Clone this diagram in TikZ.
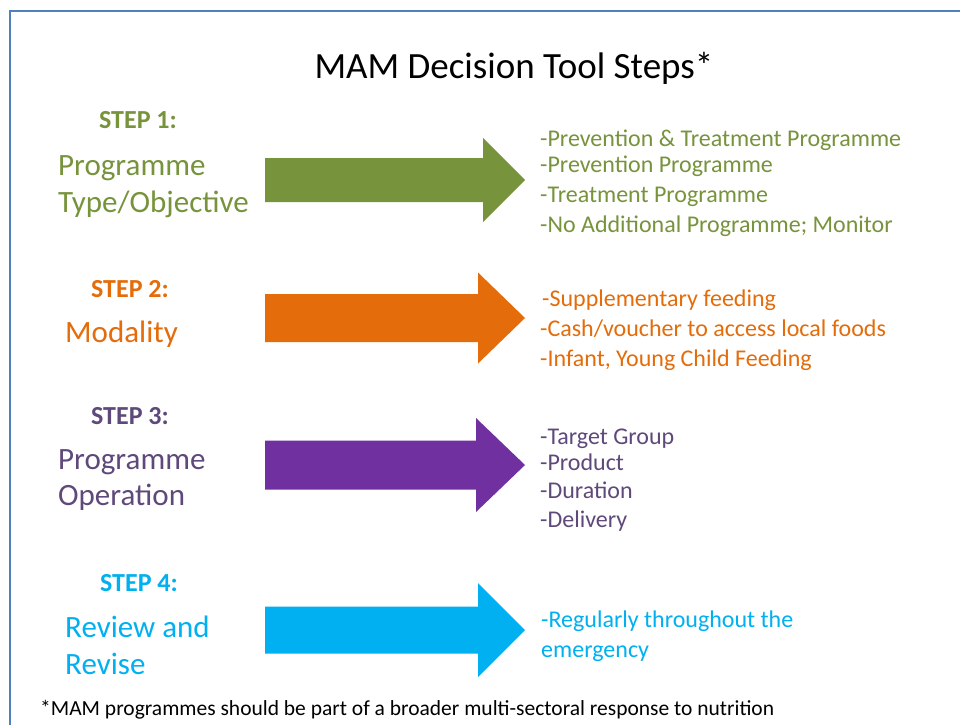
\documentclass[tikz,border=0pt]{standalone}
\usepackage{fontspec}
\setmainfont{Carlito}
\definecolor{framec}{HTML}{4F81BD}
\definecolor{gc}{HTML}{77933C}
\definecolor{oc}{HTML}{E46C0A}
\definecolor{pc}{HTML}{7030A0}
\definecolor{ptc}{HTML}{5F497A}
\definecolor{cc}{HTML}{00B0F0}
\newcommand\mamarrow[5]{%
  \fill[#1] (265,{#2-#3}) -- (#5,{#2-#3}) -- (#5,{#2-#4}) -- (525,#2)
    -- (#5,{#2+#4}) -- (#5,{#2+#3}) -- (265,{#2+#3}) -- cycle;}
\begin{document}
\begin{tikzpicture}[x=1pt,y=-1pt,
  txt/.style={inner sep=0pt, anchor=base west},
  steplbl/.style={inner sep=0pt, anchor=base, font=\fontsize{26}{26}\selectfont\bfseries},
  biglbl/.style={txt, font=\fontsize{31}{31}\selectfont},
  item/.style={txt, font=\fontsize{24}{24}\selectfont}]
\useasboundingbox (0,0) rectangle (960,724);
\fill[white] (0,0) rectangle (960,724);
\draw[framec, line width=2pt] (10,725) -- (10,11) -- (961,11);

\node[inner sep=0pt, anchor=base, font=\fontsize{37}{37}\selectfont] (title) at (514,78) {MAM Decision Tool Steps*};

% Step 1
\mamarrow{gc}{180}{22}{42}{483}
\node[steplbl, text=gc] (s1) at (138,128) {STEP 1:};
\node[biglbl, text=gc] (s1a) at (58,175) {Programme};
\node[biglbl, text=gc] (s1b) at (58,212) {Type/Objective};
\node[item, text=gc] (i11) at (540,146) {-Prevention \& Treatment Programme};
\node[item, text=gc] (i12) at (540,172) {-Prevention Programme};
\node[item, text=gc] (i13) at (540,202) {-Treatment Programme};
\node[item, text=gc] (i14) at (540,232) {-No Additional Programme; Monitor};

% Step 2
\mamarrow{oc}{318}{24}{45.5}{478}
\node[steplbl, text=oc] (s2) at (130,297) {STEP 2:};
\node[biglbl, text=oc] (s2a) at (65,342) {Modality};
\node[item, text=oc] (i21) at (542,306) {-Supplementary feeding};
\node[item, text=oc] (i22) at (540,336) {-Cash/voucher to access local foods};
\node[item, text=oc] (i23) at (540,366) {-Infant, Young Child Feeding};

% Step 3
\mamarrow{pc}{465}{24.5}{47}{476}
\node[steplbl, text=ptc] (s3) at (130,424) {STEP 3:};
\node[biglbl, text=ptc] (s3a) at (58,469) {Programme};
\node[biglbl, text=ptc] (s3b) at (58,505) {Operation};
\node[item, text=ptc] (i31) at (540,444) {-Target Group};
\node[item, text=ptc] (i32) at (540,470) {-Product};
\node[item, text=ptc] (i33) at (540,498) {-Duration};
\node[item, text=ptc] (i34) at (540,527) {-Delivery};

% Step 4
\mamarrow{cc}{630}{23.5}{47}{478}
\node[steplbl, text=cc] (s4) at (139,591) {STEP 4:};
\node[biglbl, text=cc] (s4a) at (65,637) {Review and};
\node[biglbl, text=cc] (s4b) at (65,674) {Revise};
\node[item, text=cc] (i41) at (541,627) {-Regularly throughout the};
\node[item, text=cc] (i42) at (541,657) {emergency};

\node[txt, font=\fontsize{21.5}{21.5}\selectfont] (foot) at (40,715) {*MAM programmes should be part of a broader multi-sectoral response to nutrition};
\end{tikzpicture}
\end{document}
